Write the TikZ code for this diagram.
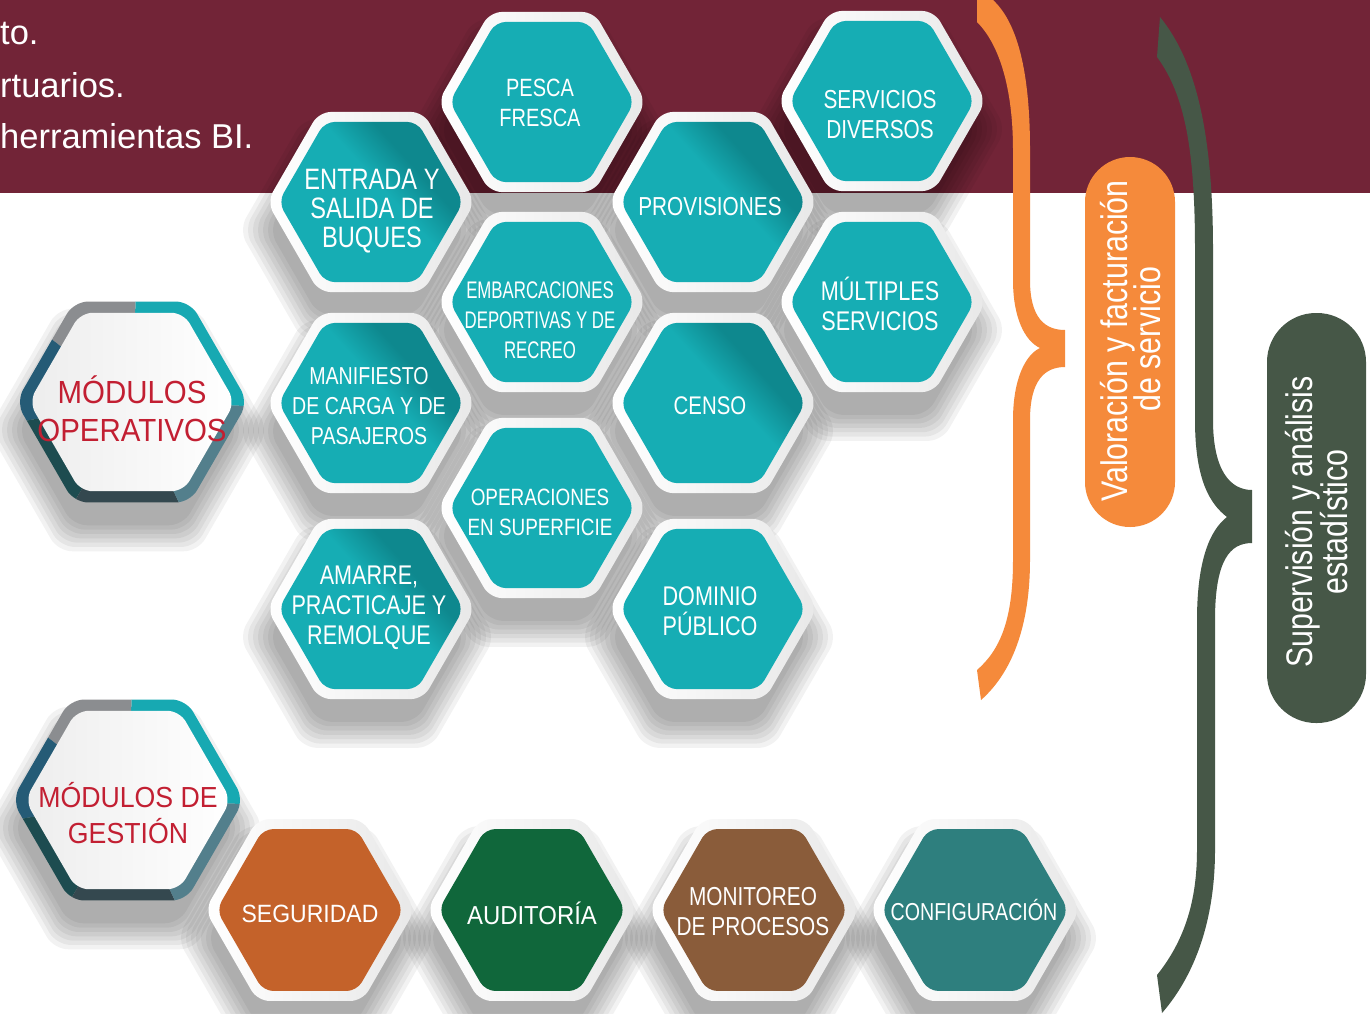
\documentclass[tikz,border=0pt]{standalone}
\usepackage{fontspec}
\setmainfont{Liberation Sans}
\newfontfamily\condf{Liberation Sans}[FakeStretch=0.8]
\newfontfamily\xcondf{Liberation Sans}[FakeStretch=0.7]
\newfontfamily\regf{Liberation Sans}[FakeStretch=0.92]
\newfontfamily\pillf{Liberation Sans}[FakeStretch=0.82]
\definecolor{bandc}{HTML}{722437}
\definecolor{tealc}{HTML}{16ADB4}
\definecolor{creasec}{HTML}{0E888E}
\definecolor{segc}{HTML}{C4622A}
\definecolor{audc}{HTML}{10673B}
\definecolor{monc}{HTML}{8A5C3A}
\definecolor{confc}{HTML}{2E7F7E}
\definecolor{orangec}{HTML}{F58A3B}
\definecolor{greenc}{HTML}{465747}
\definecolor{redc}{HTML}{C21F32}
\definecolor{rteal}{HTML}{17A9B2}
\definecolor{rgray}{HTML}{8B8D90}
\definecolor{rblue}{HTML}{255B76}
\definecolor{rdteal}{HTML}{1D4C50}
\definecolor{rdslate}{HTML}{34484F}
\definecolor{rslate}{HTML}{537F8C}
\pgfdeclarehorizontalshading{crease}{100bp}{color(0bp)=(tealc); color(55bp)=(tealc); color(66bp)=(creasec); color(100bp)=(creasec)}
\newcommand\hexdraw[4]{\path[#4] ({#1+(#3)},{#2}) -- ({#1+0.5*(#3)},{#2+0.866*(#3)}) -- ({#1-0.5*(#3)},{#2+0.866*(#3)}) -- ({#1-(#3)},{#2}) -- ({#1-0.5*(#3)},{#2-0.866*(#3)}) -- ({#1+0.5*(#3)},{#2-0.866*(#3)}) -- cycle;}
\newcommand\hexshadow[3]{\foreach \k in {0,...,6}{\hexdraw{#1-4}{#2+28}{#3-6+5*\k}{fill=black,fill opacity=0.05,rounded corners=14pt}}}
\newcommand\hexrim[3]{\hexdraw{#1}{#2}{#3}{left color=white,right color=black!9,rounded corners=12pt}}
\newcommand\hexbody[4]{\hexrim{#1}{#2}{#3}\hexdraw{#1}{#2}{#3-11.5}{fill=#4,rounded corners=10pt}}
\newcommand\hexbodyc[3]{\hexrim{#1}{#2}{#3}\hexdraw{#1}{#2}{#3-11.5}{shading=crease,shading angle=42,rounded corners=10pt}}
\newcommand\ringwedge[5]{\fill[#5] (#1,#2) -- ({#1+300*cos(#3)},{#2-300*sin(#3)}) -- ({#1+300*cos((#3+#4)/2)},{#2-300*sin((#3+#4)/2)}) -- ({#1+300*cos(#4)},{#2-300*sin(#4)}) -- cycle;}
\newcommand\bigring[3]{%
\begin{scope}
\hexdraw{#1}{#2}{#3}{clip,rounded corners=14pt}
\ringwedge{#1}{#2}{-2}{88}{rteal}
\ringwedge{#1}{#2}{88}{142}{rgray}
\ringwedge{#1}{#2}{142}{190}{rblue}
\ringwedge{#1}{#2}{190}{240}{rdteal}
\ringwedge{#1}{#2}{240}{295}{rdslate}
\ringwedge{#1}{#2}{295}{358}{rslate}
\end{scope}
\hexdraw{#1}{#2}{#3-13}{left color=black!7,right color=white,rounded corners=12pt}}
\tikzset{
  hext/.style={text=white,align=center,inner sep=0pt},
  redt/.style={text=redc,align=center,inner sep=0pt},
  pillt/.style={text=white,inner sep=0pt,anchor=base,rotate=90,font=\pillf\fontsize{37}{37}\selectfont},
  bandt/.style={text=white,inner sep=0pt,anchor=base west,font=\fontsize{34.5}{34.5}\selectfont}
}
\begin{document}
\begin{tikzpicture}[x=1pt,y=-1pt]
\useasboundingbox (0,0) rectangle (1370,1013);
\fill[white] (0,0) rectangle (1370,1013);
\fill[bandc] (0,0) rectangle (1370,193);
% band texts
\node[bandt] (t1) at (0,44) {to.};
\node[bandt] (t2) at (0,97) {rtuarios.};
\node[bandt] (t3) at (0,148) {herramientas BI.};
% shadows
\foreach \cx/\cy/\r in {542/102/104,882/101/104,371/202/104,713/202/104,542/302/104,882/302/104,371/403/104,713/403/104,542/508/104,371/609/104,713/609/104,310/910/105,532/910/105,754/910/105,975/910/105,132/402/116,128/800/116}
  {\hexshadow{\cx}{\cy}{\r}}
% hexagons
\foreach \cx/\cy/\r/\c in {542/102/104/tealc,882/101/104/tealc,542/302/104/tealc,882/302/104/tealc,542/508/104/tealc,713/609/104/tealc,310/910/105/segc,532/910/105/audc,754/910/105/monc,975/910/105/confc}
  {\hexbody{\cx}{\cy}{\r}{\c}}
\foreach \cx/\cy in {371/202,713/202,371/403,713/403,371/609}
  {\hexbodyc{\cx}{\cy}{104}}
\bigring{132}{402}{116}
\bigring{128}{800}{116}
% texts
\node[hext,font=\condf\fontsize{25}{30}\selectfont] (pesca) at (540,103) {PESCA\\FRESCA};
\node[hext,font=\condf\fontsize{26}{30}\selectfont] (servdiv) at (880,115) {SERVICIOS\\DIVERSOS};
\node[hext,font=\condf\fontsize{29.5}{29}\selectfont] (entrada) at (372,211) {ENTRADA Y\\SALIDA DE\\BUQUES};
\node[hext,font=\condf\fontsize{26}{30}\selectfont] (prov) at (710,207) {PROVISIONES};
\node[hext,font=\xcondf\fontsize{24}{30}\selectfont] (embarc) at (540,320) {EMBARCACIONES\\DEPORTIVAS Y DE\\RECREO};
\node[hext,font=\condf\fontsize{27}{30}\selectfont] (multi) at (880,304) {MÚLTIPLES\\SERVICIOS};
\node[hext,font=\condf\fontsize{24.5}{30}\selectfont] (manif) at (369,406) {MANIFIESTO\\DE CARGA Y DE\\PASAJEROS};
\node[hext,font=\condf\fontsize{25.5}{30}\selectfont] (censo) at (710,406) {CENSO};
\node[hext,font=\condf\fontsize{23.6}{30}\selectfont] (oper) at (540,512) {OPERACIONES\\EN SUPERFICIE};
\node[hext,font=\condf\fontsize{27}{30}\selectfont] (dominio) at (710,611) {DOMINIO\\PÚBLICO};
\node[hext,font=\condf\fontsize{27}{30}\selectfont] (amarre) at (369,608) {AMARRE,\\PRACTICAJE Y\\REMOLQUE};
\node[hext,font=\regf\fontsize{25}{30}\selectfont] (seg) at (310,914) {SEGURIDAD};
\node[hext,font=\regf\fontsize{26}{30}\selectfont] (aud) at (532,913) {AUDITORÍA};
\node[hext,font=\condf\fontsize{26}{30}\selectfont] (mon) at (753,912) {MONITOREO\\DE PROCESOS};
\node[hext,font=\condf\fontsize{24.5}{30}\selectfont] (conf) at (974,910) {CONFIGURACIÓN};
\node[redt,font=\regf\fontsize{32}{38}\selectfont] (modop) at (132,409) {MÓDULOS\\OPERATIVOS};
\node[redt,font=\regf\fontsize{29}{36}\selectfont] (modgest) at (128,813) {MÓDULOS DE\\GESTIÓN};
% orange brace
\fill[orangec] (993,0) .. controls (1020,25) and (1030,80) .. (1030,150) -- (1030,280)
  .. controls (1030,318) and (1045,330) .. (1065,330) -- (1065,367)
  .. controls (1045,367) and (1030,380) .. (1030,420) -- (1030,560)
  .. controls (1030,620) and (1015,670) .. (981,700) -- (977,670)
  .. controls (1000,650) and (1013,620) .. (1013,560) -- (1013,420)
  .. controls (1013,380) and (1025,355) .. (1040,348)
  .. controls (1025,341) and (1013,318) .. (1013,280) -- (1013,150)
  .. controls (1013,90) and (1000,45) .. (977,22) -- (977,0) -- cycle;
% green brace
\fill[greenc] (1160,17) .. controls (1195,60) and (1213,130) .. (1213,250) -- (1213,420)
  .. controls (1213,470) and (1230,490) .. (1252,490) -- (1252,543)
  .. controls (1230,543) and (1215,560) .. (1215,620) -- (1215,850)
  .. controls (1215,920) and (1195,975) .. (1162,1013) -- (1157,975)
  .. controls (1185,940) and (1197,900) .. (1197,850) -- (1197,620)
  .. controls (1197,560) and (1210,530) .. (1227,517)
  .. controls (1210,504) and (1195,480) .. (1195,420) -- (1195,250)
  .. controls (1195,150) and (1185,95) .. (1157,57) -- cycle;
% pills
\fill[orangec,rounded corners=45pt] (1085,157) rectangle (1175,527);
\fill[greenc,rounded corners=49pt] (1267,313) rectangle (1366,723);
\node[pillt] (val1) at (1127,341) {Valoración y facturación};
\node[pillt] (val2) at (1160,339) {de servicio};
\node[pillt] (sup1) at (1312,522) {Supervisión y análisis};
\node[pillt] (sup2) at (1347,522) {estadístico};
\end{tikzpicture}
\end{document}
